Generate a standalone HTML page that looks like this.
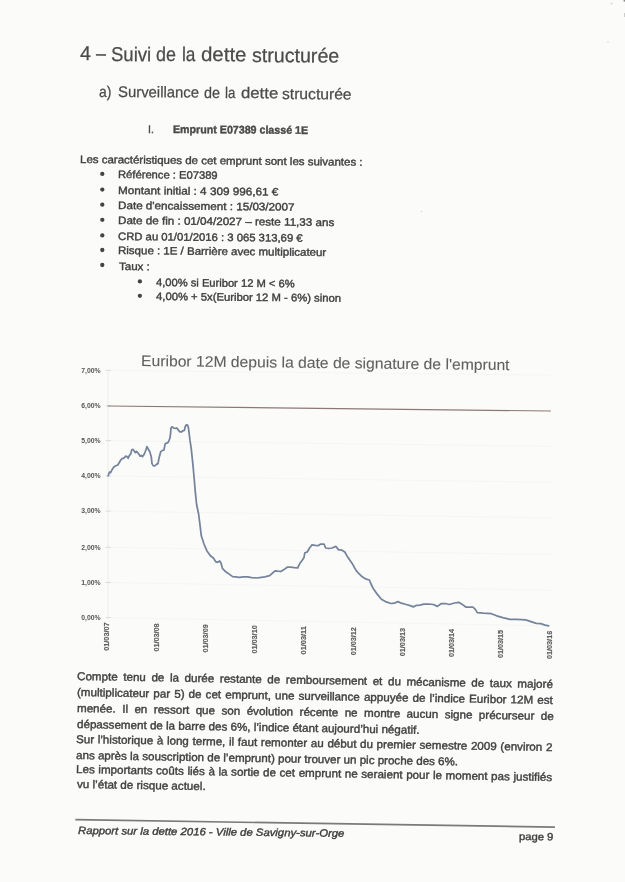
<!DOCTYPE html>
<html><head><meta charset="utf-8"><style>
html,body{margin:0;padding:0;}
body{width:625px;height:882px;overflow:hidden;background:#fbfbfa;font-family:'Liberation Sans', sans-serif;position:relative;}

</style></head><body><div id="pg" style="position:absolute;left:0;top:0;width:625px;height:882px;filter:blur(0.3px)">
<svg width="625" height="882" style="position:absolute;left:0;top:0">
<line x1="108" y1="617.6" x2="551" y2="625.9" stroke="#f5f5f4" stroke-width="1"/>
<line x1="108" y1="582.5" x2="551" y2="590.3" stroke="#f5f5f4" stroke-width="1"/>
<line x1="108" y1="547.3" x2="551" y2="554.6" stroke="#f5f5f4" stroke-width="1"/>
<line x1="108" y1="511.1" x2="551" y2="517.9" stroke="#f5f5f4" stroke-width="1"/>
<line x1="108" y1="476.0" x2="551" y2="482.3" stroke="#f5f5f4" stroke-width="1"/>
<line x1="108" y1="440.6" x2="551" y2="446.4" stroke="#f5f5f4" stroke-width="1"/>
<line x1="108" y1="370.3" x2="551" y2="375.1" stroke="#f5f5f4" stroke-width="1"/>
<line x1="108" y1="370" x2="108" y2="619" stroke="#ececec" stroke-width="1"/>
<line x1="105.5" y1="617.6" x2="111" y2="617.6" stroke="#dcdcdc" stroke-width="1"/>
<line x1="105.5" y1="582.5" x2="111" y2="582.5" stroke="#dcdcdc" stroke-width="1"/>
<line x1="105.5" y1="547.3" x2="111" y2="547.3" stroke="#dcdcdc" stroke-width="1"/>
<line x1="105.5" y1="511.1" x2="111" y2="511.1" stroke="#dcdcdc" stroke-width="1"/>
<line x1="105.5" y1="476.0" x2="111" y2="476.0" stroke="#dcdcdc" stroke-width="1"/>
<line x1="105.5" y1="440.6" x2="111" y2="440.6" stroke="#dcdcdc" stroke-width="1"/>
<line x1="105.5" y1="405.8" x2="111" y2="405.8" stroke="#dcdcdc" stroke-width="1"/>
<line x1="105.5" y1="370.3" x2="111" y2="370.3" stroke="#dcdcdc" stroke-width="1"/>
<line x1="107.7" y1="406.0" x2="550.8" y2="411.0" stroke="#8c7876" stroke-width="1.15"/>
<path d="M108.2,475.8 L109.4,472.2 L110.6,472.6 L112.2,469.4 L113.8,467.0 L115.8,465.8 L117.8,465.0 L119.0,463.0 L120.6,460.2 L122.2,458.6 L123.8,458.2 L125.8,456.2 L127.0,456.6 L128.2,458.2 L129.4,455.4 L130.6,454.2 L131.8,449.8 L133.0,449.4 L134.2,451.0 L135.4,452.6 L136.6,451.4 L138.6,453.8 L140.2,456.2 L141.4,455.4 L142.6,456.6 L144.2,454.2 L145.8,450.2 L147.0,446.6 L148.2,449.0 L149.8,451.8 L151.2,456.4 L152.0,463.6 L153.2,465.6 L154.8,466.0 L156.4,464.4 L158.0,463.6 L159.2,457.2 L160.8,451.6 L162.4,450.4 L164.0,450.0 L164.4,447.6 L165.2,443.6 L166.8,443.2 L168.4,442.0 L170.0,438.0 L170.6,433.2 L171.0,428.0 L172.0,426.8 L173.6,428.0 L175.2,428.4 L176.8,428.0 L178.0,429.6 L179.6,431.6 L181.2,432.0 L182.8,430.8 L184.4,430.4 L185.2,426.8 L186.4,424.8 L187.6,425.2 L188.4,427.6 L189.2,434.0 L190.0,440.4 L191.2,448.4 L192.4,459.6 L193.2,467.6 L194.3,480.0 L195.2,490.9 L196.6,504.5 L198.6,514.0 L200.0,524.9 L201.3,535.8 L204.0,544.0 L206.8,550.7 L210.2,555.5 L213.6,558.2 L215.6,561.6 L217.7,562.3 L219.7,561.0 L221.0,563.0 L222.4,568.4 L225.8,571.8 L229.9,574.6 L232.6,576.6 L235.3,576.9 L239.4,577.3 L243.5,576.9 L247.6,576.9 L251.7,577.6 L257.1,578.0 L261.2,577.3 L264.8,576.8 L269.6,575.7 L272.8,572.8 L275.2,570.9 L277.6,571.2 L280.8,571.5 L284.0,569.6 L287.2,567.2 L290.4,567.2 L294.4,567.7 L297.6,568.0 L300.0,563.2 L302.4,560.0 L304.0,557.6 L304.8,552.8 L307.2,552.0 L309.6,548.0 L312.0,544.8 L315.2,545.3 L318.4,545.6 L320.8,544.0 L324.0,544.0 L325.6,548.0 L328.8,548.5 L332.0,548.0 L336.0,546.4 L338.4,549.6 L341.6,550.1 L344.8,552.0 L348.0,557.6 L352.0,563.2 L356.0,570.4 L358.2,572.8 L362.2,576.8 L366.2,579.2 L369.4,580.0 L371.0,584.0 L373.4,588.8 L377.4,594.4 L381.4,599.2 L386.2,601.9 L391.0,603.5 L394.2,603.2 L397.9,601.6 L401.4,603.2 L406.2,604.5 L410.2,605.6 L413.4,606.9 L416.6,605.3 L419.8,605.1 L423.8,604.2 L428.6,604.0 L433.4,604.5 L437.4,606.4 L441.4,603.5 L445.4,603.5 L449.4,604.5 L454.4,603.0 L458.8,602.3 L462.3,604.4 L465.8,607.0 L472.9,607.0 L475.5,609.6 L477.3,612.6 L483.5,613.2 L491.4,613.7 L496.7,615.8 L502.8,617.6 L509.9,619.3 L516.9,619.3 L525.7,619.9 L531.0,621.6 L536.3,623.4 L540.7,623.7 L545.1,625.1 L548.6,625.8" fill="none" stroke="#75849a" stroke-width="1.75" stroke-linejoin="round" stroke-linecap="round"/>
<text x="81.3" y="372.6" font-family="Liberation Sans" font-weight="700" font-size="6.4" fill="#555" textLength="19.4" lengthAdjust="spacingAndGlyphs">7,00%</text>
<text x="81.3" y="408.1" font-family="Liberation Sans" font-weight="700" font-size="6.4" fill="#555" textLength="19.4" lengthAdjust="spacingAndGlyphs">6,00%</text>
<text x="81.3" y="442.9" font-family="Liberation Sans" font-weight="700" font-size="6.4" fill="#555" textLength="19.4" lengthAdjust="spacingAndGlyphs">5,00%</text>
<text x="81.3" y="478.3" font-family="Liberation Sans" font-weight="700" font-size="6.4" fill="#555" textLength="19.4" lengthAdjust="spacingAndGlyphs">4,00%</text>
<text x="81.3" y="513.4" font-family="Liberation Sans" font-weight="700" font-size="6.4" fill="#555" textLength="19.4" lengthAdjust="spacingAndGlyphs">3,00%</text>
<text x="81.3" y="549.6" font-family="Liberation Sans" font-weight="700" font-size="6.4" fill="#555" textLength="19.4" lengthAdjust="spacingAndGlyphs">2,00%</text>
<text x="81.3" y="584.8" font-family="Liberation Sans" font-weight="700" font-size="6.4" fill="#555" textLength="19.4" lengthAdjust="spacingAndGlyphs">1,00%</text>
<text x="81.3" y="619.9" font-family="Liberation Sans" font-weight="700" font-size="6.4" fill="#555" textLength="19.4" lengthAdjust="spacingAndGlyphs">0,00%</text>
<text transform="translate(108.8,650.7) rotate(-90)" font-family="Liberation Sans" font-weight="700" font-size="7.2" fill="#5e5e5e" stroke="#5e5e5e" stroke-width="0.2" textLength="28.2" lengthAdjust="spacingAndGlyphs">01/03/07</text>
<text transform="translate(158.9,651.6) rotate(-90)" font-family="Liberation Sans" font-weight="700" font-size="7.2" fill="#5e5e5e" stroke="#5e5e5e" stroke-width="0.2" textLength="28.2" lengthAdjust="spacingAndGlyphs">01/03/08</text>
<text transform="translate(208.1,652.5) rotate(-90)" font-family="Liberation Sans" font-weight="700" font-size="7.2" fill="#5e5e5e" stroke="#5e5e5e" stroke-width="0.2" textLength="28.2" lengthAdjust="spacingAndGlyphs">01/03/09</text>
<text transform="translate(257.0,653.5) rotate(-90)" font-family="Liberation Sans" font-weight="700" font-size="7.2" fill="#5e5e5e" stroke="#5e5e5e" stroke-width="0.2" textLength="28.2" lengthAdjust="spacingAndGlyphs">01/03/10</text>
<text transform="translate(306.2,654.4) rotate(-90)" font-family="Liberation Sans" font-weight="700" font-size="7.2" fill="#5e5e5e" stroke="#5e5e5e" stroke-width="0.2" textLength="28.2" lengthAdjust="spacingAndGlyphs">01/03/11</text>
<text transform="translate(355.8,655.3) rotate(-90)" font-family="Liberation Sans" font-weight="700" font-size="7.2" fill="#5e5e5e" stroke="#5e5e5e" stroke-width="0.2" textLength="28.2" lengthAdjust="spacingAndGlyphs">01/03/12</text>
<text transform="translate(405.4,656.2) rotate(-90)" font-family="Liberation Sans" font-weight="700" font-size="7.2" fill="#5e5e5e" stroke="#5e5e5e" stroke-width="0.2" textLength="28.2" lengthAdjust="spacingAndGlyphs">01/03/13</text>
<text transform="translate(454.2,657.1) rotate(-90)" font-family="Liberation Sans" font-weight="700" font-size="7.2" fill="#5e5e5e" stroke="#5e5e5e" stroke-width="0.2" textLength="28.2" lengthAdjust="spacingAndGlyphs">01/03/14</text>
<text transform="translate(503.2,658.1) rotate(-90)" font-family="Liberation Sans" font-weight="700" font-size="7.2" fill="#5e5e5e" stroke="#5e5e5e" stroke-width="0.2" textLength="28.2" lengthAdjust="spacingAndGlyphs">01/03/15</text>
<text transform="translate(552.2,659.0) rotate(-90)" font-family="Liberation Sans" font-weight="700" font-size="7.2" fill="#5e5e5e" stroke="#5e5e5e" stroke-width="0.2" textLength="28.2" lengthAdjust="spacingAndGlyphs">01/03/16</text>
<circle cx="102.3" cy="173.9" r="2.15" fill="#444"/>
<circle cx="102.3" cy="189.6" r="2.15" fill="#444"/>
<circle cx="102.3" cy="204.7" r="2.15" fill="#444"/>
<circle cx="102.3" cy="219.8" r="2.15" fill="#444"/>
<circle cx="102.3" cy="235.4" r="2.15" fill="#444"/>
<circle cx="102.3" cy="250.0" r="2.15" fill="#444"/>
<circle cx="102.3" cy="265.0" r="2.15" fill="#444"/>
<circle cx="139.9" cy="281.4" r="2.15" fill="#444"/>
<circle cx="139.9" cy="295.8" r="2.15" fill="#444"/>
<circle cx="421.5" cy="211.5" r="0.8" fill="#d8d8d8"/>
<circle cx="611.5" cy="3.6" r="1.0" fill="#d8d8d8"/>
<circle cx="608" cy="42" r="0.8" fill="#d8d8d8"/>
<rect x="623.6" y="0" width="1.4" height="1.6" fill="#888"/>
<rect x="624" y="13" width="1" height="4" fill="#ccc"/>
<line x1="75.3" y1="819.6" x2="554.9" y2="827.1" stroke="#7a7a7a" stroke-width="1.6"/>
</svg>
<div style="position:absolute;left:79.99px;top:43.07px;line-height:20.0px;white-space:pre;transform-origin:0 16.93px;transform:rotate(0.401deg) scaleX(0.9794);font-size:20.0px;font-weight:400;font-style:normal;color:#4b4b4b;letter-spacing:0px;-webkit-text-stroke:0.25px #4b4b4b;">4</div>
<div style="position:absolute;left:95.70px;top:43.17px;line-height:20.0px;white-space:pre;transform-origin:0 16.93px;transform:rotate(0.401deg) scaleX(0.8889);font-size:20.0px;font-weight:400;font-style:normal;color:#4b4b4b;letter-spacing:0px;-webkit-text-stroke:0.25px #4b4b4b;">–</div>
<div style="position:absolute;left:110.82px;top:43.69px;line-height:20.0px;white-space:pre;transform-origin:0 16.93px;transform:rotate(0.401deg) scaleX(0.9250);font-size:20.0px;font-weight:400;font-style:normal;color:#4b4b4b;letter-spacing:0px;-webkit-text-stroke:0.25px #4b4b4b;">Suivi</div>
<div style="position:absolute;left:156.44px;top:44.01px;line-height:20.0px;white-space:pre;transform-origin:0 16.93px;transform:rotate(0.401deg) scaleX(0.8938);font-size:20.0px;font-weight:400;font-style:normal;color:#4b4b4b;letter-spacing:0px;-webkit-text-stroke:0.25px #4b4b4b;">de</div>
<div style="position:absolute;left:181.73px;top:44.19px;line-height:20.0px;white-space:pre;transform-origin:0 16.93px;transform:rotate(0.401deg) scaleX(0.8585);font-size:20.0px;font-weight:400;font-style:normal;color:#4b4b4b;letter-spacing:0px;-webkit-text-stroke:0.25px #4b4b4b;">la</div>
<div style="position:absolute;left:201.36px;top:44.32px;line-height:20.0px;white-space:pre;transform-origin:0 16.93px;transform:rotate(0.401deg) scaleX(1.0221);font-size:20.0px;font-weight:400;font-style:normal;color:#4b4b4b;letter-spacing:0px;-webkit-text-stroke:0.25px #4b4b4b;">dette</div>
<div style="position:absolute;left:252.39px;top:44.68px;line-height:20.0px;white-space:pre;transform-origin:0 16.93px;transform:rotate(0.401deg) scaleX(0.9806);font-size:20.0px;font-weight:400;font-style:normal;color:#4b4b4b;letter-spacing:0px;-webkit-text-stroke:0.25px #4b4b4b;">structurée</div>
<div style="position:absolute;left:98.57px;top:84.26px;line-height:15.4px;white-space:pre;transform-origin:0 13.04px;transform:rotate(0.401deg) scaleX(0.9000);font-size:15.4px;font-weight:400;font-style:normal;color:#4b4b4b;letter-spacing:0px;-webkit-text-stroke:0.25px #4b4b4b;">a)</div>
<div style="position:absolute;left:118.13px;top:84.36px;line-height:15.4px;white-space:pre;transform-origin:0 13.04px;transform:rotate(0.401deg) scaleX(0.9664);font-size:15.4px;font-weight:400;font-style:normal;color:#4b4b4b;letter-spacing:0px;-webkit-text-stroke:0.25px #4b4b4b;">Surveillance</div>
<div style="position:absolute;left:203.95px;top:84.96px;line-height:15.4px;white-space:pre;transform-origin:0 13.04px;transform:rotate(0.401deg) scaleX(0.9298);font-size:15.4px;font-weight:400;font-style:normal;color:#4b4b4b;letter-spacing:0px;-webkit-text-stroke:0.25px #4b4b4b;">de</div>
<div style="position:absolute;left:225.17px;top:85.11px;line-height:15.4px;white-space:pre;transform-origin:0 13.04px;transform:rotate(0.401deg) scaleX(0.8632);font-size:15.4px;font-weight:400;font-style:normal;color:#4b4b4b;letter-spacing:0px;-webkit-text-stroke:0.25px #4b4b4b;">la</div>
<div style="position:absolute;left:240.68px;top:85.22px;line-height:15.4px;white-space:pre;transform-origin:0 13.04px;transform:rotate(0.401deg) scaleX(1.0861);font-size:15.4px;font-weight:400;font-style:normal;color:#4b4b4b;letter-spacing:0px;-webkit-text-stroke:0.25px #4b4b4b;">dette</div>
<div style="position:absolute;left:281.76px;top:85.50px;line-height:15.4px;white-space:pre;transform-origin:0 13.04px;transform:rotate(0.401deg) scaleX(1.0162);font-size:15.4px;font-weight:400;font-style:normal;color:#4b4b4b;letter-spacing:0px;-webkit-text-stroke:0.25px #4b4b4b;">structurée</div>
<div style="position:absolute;left:147.58px;top:123.99px;line-height:11.0px;white-space:pre;transform-origin:0 9.31px;transform:rotate(0.401deg) scaleX(0.9500);font-size:11.0px;font-weight:400;font-style:normal;color:#4a4a4a;letter-spacing:0px;-webkit-text-stroke:0.4px #4a4a4a;">I.</div>
<div style="position:absolute;left:173.13px;top:124.00px;line-height:11.1px;white-space:pre;transform-origin:0 9.40px;transform:rotate(0.401deg) scaleX(0.9607);font-size:11.1px;font-weight:700;font-style:normal;color:#4a4a4a;letter-spacing:0px;-webkit-text-stroke:0.4px #4a4a4a;">Emprunt E07389 classé 1E</div>
<div style="position:absolute;left:80.00px;top:153.66px;line-height:10.8px;white-space:pre;transform-origin:0 9.14px;transform:rotate(0.550deg) scaleX(1.0628);font-size:10.8px;font-weight:400;font-style:normal;color:#404040;letter-spacing:0px;-webkit-text-stroke:0.4px #404040;">Les caractéristiques de cet emprunt sont les suivantes :</div>
<div style="position:absolute;left:117.82px;top:169.36px;line-height:10.8px;white-space:pre;transform-origin:0 9.14px;transform:rotate(0.550deg) scaleX(1.0371);font-size:10.8px;font-weight:400;font-style:normal;color:#404040;letter-spacing:0px;-webkit-text-stroke:0.4px #404040;">Référence : E07389</div>
<div style="position:absolute;left:117.78px;top:185.06px;line-height:10.8px;white-space:pre;transform-origin:0 9.14px;transform:rotate(0.550deg) scaleX(1.0861);font-size:10.8px;font-weight:400;font-style:normal;color:#404040;letter-spacing:0px;-webkit-text-stroke:0.4px #404040;">Montant initial : 4 309 996,61 €</div>
<div style="position:absolute;left:117.79px;top:200.16px;line-height:10.8px;white-space:pre;transform-origin:0 9.14px;transform:rotate(0.550deg) scaleX(1.0795);font-size:10.8px;font-weight:400;font-style:normal;color:#404040;letter-spacing:0px;-webkit-text-stroke:0.4px #404040;">Date d'encaissement : 15/03/2007</div>
<div style="position:absolute;left:117.79px;top:215.26px;line-height:10.8px;white-space:pre;transform-origin:0 9.14px;transform:rotate(0.550deg) scaleX(1.0763);font-size:10.8px;font-weight:400;font-style:normal;color:#404040;letter-spacing:0px;-webkit-text-stroke:0.4px #404040;">Date de fin : 01/04/2027 – reste 11,33 ans</div>
<div style="position:absolute;left:118.17px;top:230.86px;line-height:10.8px;white-space:pre;transform-origin:0 9.14px;transform:rotate(0.550deg) scaleX(1.0459);font-size:10.8px;font-weight:400;font-style:normal;color:#404040;letter-spacing:0px;-webkit-text-stroke:0.4px #404040;">CRD au 01/01/2016 : 3 065 313,69 €</div>
<div style="position:absolute;left:117.80px;top:245.46px;line-height:10.8px;white-space:pre;transform-origin:0 9.14px;transform:rotate(0.550deg) scaleX(1.0643);font-size:10.8px;font-weight:400;font-style:normal;color:#404040;letter-spacing:0px;-webkit-text-stroke:0.4px #404040;">Risque : 1E / Barrière avec multiplicateur</div>
<div style="position:absolute;left:118.52px;top:261.36px;line-height:10.8px;white-space:pre;transform-origin:0 9.14px;transform:rotate(0.550deg) scaleX(1.0698);font-size:10.8px;font-weight:400;font-style:normal;color:#404040;letter-spacing:0px;-webkit-text-stroke:0.4px #404040;">Taux :</div>
<div style="position:absolute;left:155.73px;top:276.86px;line-height:10.8px;white-space:pre;transform-origin:0 9.14px;transform:rotate(0.550deg) scaleX(1.0331);font-size:10.8px;font-weight:400;font-style:normal;color:#404040;letter-spacing:0px;-webkit-text-stroke:0.4px #404040;">4,00% si Euribor 12 M &lt; 6%</div>
<div style="position:absolute;left:155.72px;top:291.26px;line-height:10.8px;white-space:pre;transform-origin:0 9.14px;transform:rotate(0.550deg) scaleX(1.0430);font-size:10.8px;font-weight:400;font-style:normal;color:#404040;letter-spacing:0px;-webkit-text-stroke:0.4px #404040;">4,00% + 5x(Euribor 12 M - 6%) sinon</div>
<div style="position:absolute;left:77.26px;top:671.23px;line-height:11.3px;white-space:pre;transform-origin:0 9.57px;transform:rotate(0.962deg) scaleX(1.0269);font-size:11.3px;font-weight:400;font-style:normal;color:#404040;letter-spacing:0px;-webkit-text-stroke:0.4px #404040;word-spacing:2.318px;">Compte tenu de la durée restante de remboursement et du mécanisme de taux majoré</div>
<div style="position:absolute;left:77.06px;top:686.93px;line-height:11.3px;white-space:pre;transform-origin:0 9.57px;transform:rotate(0.962deg) scaleX(1.0269);font-size:11.3px;font-weight:400;font-style:normal;color:#404040;letter-spacing:0px;-webkit-text-stroke:0.4px #404040;word-spacing:0.861px;">(multiplicateur par 5) de cet emprunt, une surveillance appuyée de l’indice Euribor 12M est</div>
<div style="position:absolute;left:76.67px;top:703.43px;line-height:11.3px;white-space:pre;transform-origin:0 9.57px;transform:rotate(0.962deg) scaleX(1.0269);font-size:11.3px;font-weight:400;font-style:normal;color:#404040;letter-spacing:0px;-webkit-text-stroke:0.4px #404040;word-spacing:3.148px;">menée. Il en ressort que son évolution récente ne montre aucun signe précurseur de</div>
<div style="position:absolute;left:76.84px;top:718.83px;line-height:11.3px;white-space:pre;transform-origin:0 9.57px;transform:rotate(0.962deg) scaleX(1.0271);font-size:11.3px;font-weight:400;font-style:normal;color:#404040;letter-spacing:0px;-webkit-text-stroke:0.4px #404040;">dépassement de la barre des 6%, l’indice étant aujourd’hui négatif.</div>
<div style="position:absolute;left:76.14px;top:733.63px;line-height:11.3px;white-space:pre;transform-origin:0 9.57px;transform:rotate(0.962deg) scaleX(1.0269);font-size:11.3px;font-weight:400;font-style:normal;color:#404040;letter-spacing:0px;-webkit-text-stroke:0.4px #404040;word-spacing:0.411px;">Sur l’historique à long terme, il faut remonter au début du premier semestre 2009 (environ 2</div>
<div style="position:absolute;left:76.44px;top:749.73px;line-height:11.3px;white-space:pre;transform-origin:0 9.57px;transform:rotate(0.962deg) scaleX(1.0244);font-size:11.3px;font-weight:400;font-style:normal;color:#404040;letter-spacing:0px;-webkit-text-stroke:0.4px #404040;">ans après la souscription de l’emprunt) pour trouver un pic proche des 6%.</div>
<div style="position:absolute;left:75.89px;top:763.83px;line-height:11.3px;white-space:pre;transform-origin:0 9.57px;transform:rotate(0.962deg) scaleX(1.0269);font-size:11.3px;font-weight:400;font-style:normal;color:#404040;letter-spacing:0px;-webkit-text-stroke:0.4px #404040;word-spacing:0.370px;">Les importants coûts liés à la sortie de cet emprunt ne seraient pour le moment pas justifiés</div>
<div style="position:absolute;left:76.80px;top:778.53px;line-height:11.3px;white-space:pre;transform-origin:0 9.57px;transform:rotate(0.962deg) scaleX(1.0292);font-size:11.3px;font-weight:400;font-style:normal;color:#404040;letter-spacing:0px;-webkit-text-stroke:0.4px #404040;">vu l’état de risque actuel.</div>
<div style="position:absolute;left:77.52px;top:825.11px;line-height:10.5px;white-space:pre;transform-origin:0 8.89px;transform:rotate(0.602deg) scaleX(1.0780);font-size:10.5px;font-weight:400;font-style:italic;color:#404040;letter-spacing:0px;-webkit-text-stroke:0.4px #404040;">Rapport sur la dette 2016 - Ville de Savigny-sur-Orge</div>
<div style="position:absolute;left:519.30px;top:830.51px;line-height:10.5px;white-space:pre;transform-origin:0 8.89px;transform:rotate(0.602deg) scaleX(1.0698);font-size:10.5px;font-weight:400;font-style:normal;color:#404040;letter-spacing:0px;-webkit-text-stroke:0.4px #404040;">page 9</div>
<div style="position:absolute;left:140.57px;top:352.63px;line-height:15.2px;white-space:pre;transform-origin:0 12.87px;transform:rotate(0.630deg) scaleX(1.0332);font-size:15.2px;font-weight:400;font-style:normal;color:#606060;letter-spacing:0px;-webkit-text-stroke:0.1px #606060;">Euribor 12M depuis la date de signature de l'emprunt</div>
</div></body></html>
